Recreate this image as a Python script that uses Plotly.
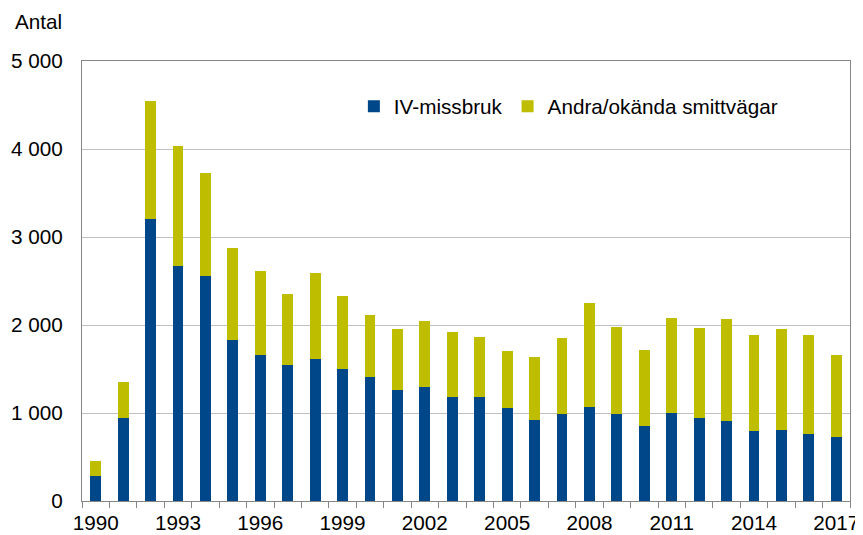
import plotly.graph_objects as go

# HIV cases per year, split by route of transmission
years = list(range(1990, 2018))
iv_missbruk = [280, 940, 3200, 2670, 2560, 1825, 1660, 1540, 1615, 1500,
               1405, 1260, 1290, 1185, 1185, 1060, 920, 990, 1070, 990,
               850, 995, 940, 905, 790, 805, 765, 730]
andra_okanda = [170, 410, 1340, 1360, 1170, 1045, 955, 815, 975, 830,
                710, 700, 760, 730, 675, 650, 720, 860, 1180, 990,
                870, 1080, 1030, 1160, 1100, 1145, 1120, 930]

tick_years = years[::3]

BLUE = "#00478A"
YELLOW = "#BEBD00"
FONT = "Liberation Sans, Arial, sans-serif"
FS = 20.7

fig = go.Figure()
fig.add_trace(go.Bar(x=years, y=iv_missbruk, name="IV-missbruk",
                     marker=dict(color=BLUE, line=dict(width=0))))
fig.add_trace(go.Bar(x=years, y=andra_okanda, name="Andra/okända smittvägar",
                     marker=dict(color=YELLOW, line=dict(width=0))))

# the page body adds an 8px margin, so the figure is 8px smaller than the window
fig.update_layout(
    width=855, height=527,
    margin=dict(l=74, r=13, t=53, b=34),
    barmode="stack", bargap=0.6,
    plot_bgcolor="white", paper_bgcolor="white",
    separators=", ",
    font=dict(family=FONT, size=FS, color="#000000"),
    legend=dict(orientation="h", x=0.354, xanchor="left", y=0.897, yanchor="middle",
                bgcolor="rgba(0,0,0,0)", font=dict(size=FS), traceorder="normal"),
    annotations=[dict(text="Antal", xref="paper", yref="paper", x=-0.0898, y=1.09,
                      xanchor="left", yanchor="middle", showarrow=False,
                      font=dict(size=FS))],
)

fig.update_xaxes(
    automargin=False,
    range=[years[0] - 0.5, years[-1] + 0.5],
    tickmode="array", tickvals=tick_years, ticktext=[str(y) for y in tick_years],
    ticks="", ticklabelstandoff=3, showgrid=False, zeroline=False,
    showline=True, linecolor="#868686", linewidth=1, mirror=True,
    minor=dict(ticks="outside", tickmode="array",
               tickvals=[y - 0.5 for y in years] + [years[-1] + 0.5],
               ticklen=6, tickwidth=1, tickcolor="#868686", showgrid=False),
)
fig.update_yaxes(
    automargin=False,
    range=[0, 5000], dtick=1000, tickformat=",d",
    ticks="", ticklabelstandoff=14,
    showgrid=True, gridcolor="#BFBFBF", gridwidth=1, zeroline=False,
    showline=True, linecolor="#868686", linewidth=1, mirror=True,
)

fig.write_html("out.html")
